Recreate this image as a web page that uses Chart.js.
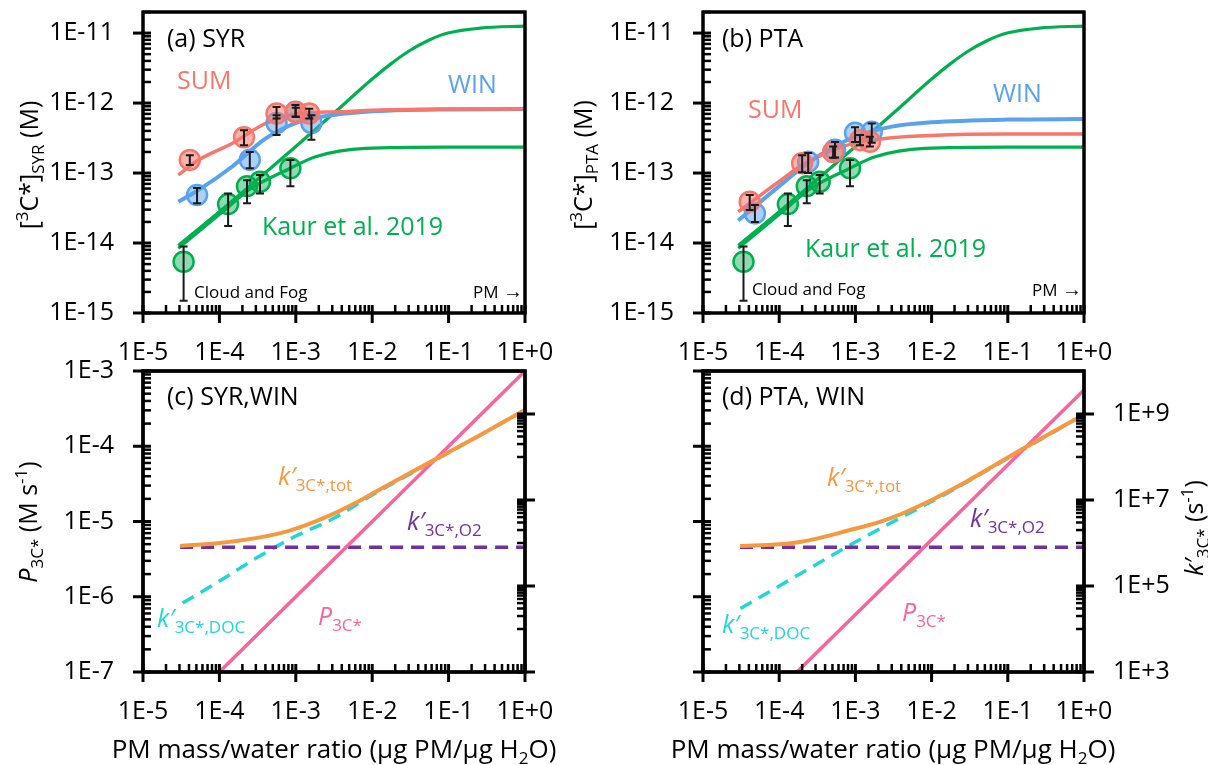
<!DOCTYPE html>
<html>
<head>
<meta charset="utf-8">
<script src="https://cdn.jsdelivr.net/npm/chart.js@4.4.1/dist/chart.umd.min.js"></script>
<style>
  html, body { margin: 0; padding: 0; background: #fff; }
  #wrap { position: relative; width: 1208px; height: 765px; }
  canvas { position: absolute; left: 0; top: 0; }
</style>
</head>
<body>
<div id="wrap">
  <canvas id="pa" width="1208" height="765"></canvas>
  <canvas id="pb" width="1208" height="765"></canvas>
  <canvas id="pc" width="1208" height="765"></canvas>
  <canvas id="pd" width="1208" height="765"></canvas>
</div>
<script>
// x everywhere = PM mass / water ratio (ug PM / ug H2O)

// cloud and fog points (Kaur et al. 2019), same in (a) and (b)
const fogX  = [3.4e-5, 1.3e-4, 2.3e-4, 3.4e-4, 8.5e-4];
const fogY  = [5.4e-15, 3.6e-14, 6.5e-14, 7.5e-14, 1.17e-13];
const fogLo = [1.5e-15, 1.75e-14, 3.7e-14, 5.1e-14, 6.5e-14];
const fogHi = [8.9e-15, 5.1e-14, 7.9e-14, 9.4e-14, 1.54e-13];

// Kaur et al. 2019 model curves
const kaurUpX = [2.9e-5, 1e-4, 1e-3, 3.3e-3, 1e-2, 1.74e-2, 3e-2, 5.5e-2, 9.8e-2, 0.26, 1];
const kaurUpY = [9.2e-15, 2.8e-14, 2.4e-13, 7.5e-13, 2.2e-12, 3.6e-12, 5.5e-12, 7.9e-12, 1.0e-11, 1.18e-11, 1.26e-11];
const kaurLoX = [2.9e-5, 1.32e-4, 2.4e-4, 8.5e-4, 1.81e-3, 8.2e-3, 0.1, 1];
const kaurLoY = [8.4e-15, 3.3e-14, 5.7e-14, 1.17e-13, 1.71e-13, 2.25e-13, 2.35e-13, 2.35e-13];

// (a) SYR
const syrSumX  = [4.1e-5, 2.1e-4, 5.6e-4, 1.0e-3, 1.5e-3];
const syrSumY  = [1.54e-13, 3.24e-13, 7.1e-13, 7.4e-13, 7.1e-13];
const syrSumLo = [1.3e-13, 2.5e-13, 6.0e-13, 6.3e-13, 6.0e-13];
const syrSumHi = [1.8e-13, 4.1e-13, 8.8e-13, 8.6e-13, 8.3e-13];
const syrWinX  = [5.1e-5, 2.5e-4, 5.6e-4, 9.9e-4, 1.6e-3];
const syrWinY  = [4.85e-14, 1.55e-13, 5.2e-13, 7.5e-13, 5.2e-13];
const syrWinLo = [3.7e-14, 1.17e-13, 3.5e-13, 6.4e-13, 3.0e-13];
const syrWinHi = [6.1e-14, 2.0e-13, 6.7e-13, 9.4e-13, 6.7e-13];
const syrSumFitX = [2.9e-5, 5.3e-5, 1.46e-4, 4e-4, 1.1e-3, 3.7e-3, 8.2e-3, 0.1, 1];
const syrSumFitY = [9.4e-14, 1.53e-13, 2.65e-13, 5.1e-13, 7.1e-13, 7.5e-13, 7.8e-13, 8.2e-13, 8.2e-13];
const syrWinFitX = [2.9e-5, 5.3e-5, 1.46e-4, 4e-4, 1.1e-3, 3e-3, 8.2e-3, 0.1, 1];
const syrWinFitY = [3.9e-14, 5.7e-14, 1.23e-13, 3.1e-13, 5.4e-13, 6.7e-13, 7.5e-13, 8.1e-13, 8.2e-13];

// (b) PTA
const ptaSumX  = [4.1e-5, 2.0e-4, 5.1e-4, 1.15e-3, 1.55e-3];
const ptaSumY  = [3.9e-14, 1.38e-13, 2.0e-13, 2.95e-13, 2.8e-13];
const ptaSumLo = [2.96e-14, 1.03e-13, 1.65e-13, 2.5e-13, 2.4e-13];
const ptaSumHi = [4.85e-14, 1.8e-13, 2.4e-13, 3.5e-13, 3.3e-13];
const ptaWinX  = [4.8e-5, 2.4e-4, 5.4e-4, 9.9e-4, 1.64e-3];
const ptaWinY  = [2.65e-14, 1.45e-13, 2.15e-13, 3.75e-13, 3.9e-13];
const ptaWinLo = [2.0e-14, 1.0e-13, 1.67e-13, 2.77e-13, 2.7e-13];
const ptaWinHi = [3.5e-14, 1.93e-13, 2.77e-13, 4.5e-13, 5.1e-13];
const ptaSumFitX = [2.9e-5, 1e-4, 2e-4, 5e-4, 1e-3, 3e-3, 1e-2, 0.1, 1];
const ptaSumFitY = [2.8e-14, 7.6e-14, 1.3e-13, 2.1e-13, 2.7e-13, 3.2e-13, 3.45e-13, 3.6e-13, 3.6e-13];
const ptaWinFitX = [2.9e-5, 1e-4, 2.4e-4, 5e-4, 1e-3, 3e-3, 1e-2, 0.1, 1];
const ptaWinFitY = [2.1e-14, 6.5e-14, 1.4e-13, 2.3e-13, 3.3e-13, 4.6e-13, 5.3e-13, 5.8e-13, 5.9e-13];

// (c) SYR, WIN   k' in s-1 (right axis), P in M s-1 (left axis)
const cTotX = [3.06e-5, 1e-4, 3e-4, 6.3e-4, 1.15e-3, 2.8e-3, 6e-3, 1.29e-2, 5.8e-2, 0.26, 1];
const cTotY = [8.5e5, 1.0e6, 1.3e6, 1.7e6, 2.35e6, 4.4e6, 8.5e6, 1.8e7, 7.7e7, 3.25e8, 1.24e9];
const cO2X  = [3.06e-5, 1];
const cO2Y  = [8.0e5, 8.0e5];
const cDocX = [3.3e-5, 1e-4, 3e-4, 1e-3, 3e-3, 1e-2, 0.1, 1];
const cDocY = [4.0e4, 1.3e5, 4.4e5, 1.45e6, 3.6e6, 1.3e7, 1.25e8, 1.23e9];
const cPX   = [1e-4, 1];
const cPY   = [1e-7, 1e-3];

// (d) PTA, WIN
const dTotX = [3.06e-5, 1e-4, 1.87e-4, 8.5e-4, 2.2e-3, 3.85e-3, 1e-2, 3e-2, 0.16, 1];
const dTotY = [8.5e5, 9.3e5, 1.05e6, 2.0e6, 3.2e6, 4.6e6, 1.0e7, 2.8e7, 1.58e8, 9.8e8];
const dO2X  = [3.06e-5, 1];
const dO2Y  = [8.0e5, 8.0e5];
const dDocX = [3.1e-5, 1e-4, 1e-3, 3.85e-3, 1e-2, 3e-2, 0.1, 1];
const dDocY = [3.0e4, 1.0e5, 1.05e6, 3.8e6, 9.2e6, 2.7e7, 9.3e7, 9.7e8];
const dPX   = [1.71e-4, 1];
const dPY   = [1e-7, 5.6e-4];

const FONT = '"Open Sans", "Liberation Sans", sans-serif';
const RED = '#F8776C', BLUE = '#5AA2EE', GREEN = '#00B050';
const ORANGE = '#F5983F', PURPLE = '#7030A0', CYAN = '#22D6D6', PINK = '#F7659F';

const zip = (xs, ys) => xs.map((x, i) => ({x, y: ys[i]}));
const fnt = (s, it) => (it ? 'italic ' : '') + s + 'px ' + FONT;

function decade(v) {
  const l = Math.log10(v), e = Math.round(l);
  if (Math.abs(l - e) > 1e-6) return '';
  return '1E' + (e < 0 ? '' : '+') + e;
}

function tickSet(e0, e1, k0, max) {
  const out = [];
  for (let e = e0; e <= e1; e++)
    for (let k = k0; k <= 9; k++) {
      const v = Number((k * Math.pow(10, e)).toPrecision(6));
      if (!max || v <= max * 1.0001) out.push(v);
    }
  return out;
}

function drawRich(ctx, parts, x, y, opt = {}) {
  ctx.save();
  ctx.translate(x, y);
  if (opt.rot) ctx.rotate(opt.rot);
  ctx.textBaseline = 'alphabetic';
  ctx.textAlign = 'left';
  let w = 0;
  parts.forEach(p => { ctx.font = fnt(p.s || 25, p.it); w += ctx.measureText(p.t).width; });
  let cx = opt.align === 'center' ? -w / 2 : 0;
  parts.forEach(p => {
    ctx.font = fnt(p.s || 25, p.it);
    ctx.fillStyle = p.c || opt.color || '#000';
    ctx.fillText(p.t, cx, p.dy || 0);
    cx += ctx.measureText(p.t).width;
  });
  ctx.restore();
}

function drawTicks(ctx, chart, scale, side, majors, minors) {
  const a = chart.chartArea;
  ctx.save();
  ctx.strokeStyle = '#000';
  const seg = (x1, y1, x2, y2, w) => { ctx.lineWidth = w; ctx.beginPath(); ctx.moveTo(x1, y1); ctx.lineTo(x2, y2); ctx.stroke(); };
  minors.forEach(v => {
    const p = scale.getPixelForValue(v);
    if (side === 'bottom') seg(p, a.bottom, p, a.bottom - 8, 2.5);
    if (side === 'left') seg(a.left, p, a.left + 8, p, 2.5);
    if (side === 'right') seg(a.right, p, a.right - 8, p, 2.5);
  });
  majors.forEach(v => {
    const p = scale.getPixelForValue(v);
    if (side === 'bottom') seg(p, a.bottom - 8, p, a.bottom + 10, 3);
    if (side === 'left') seg(a.left - 10, p, a.left + 8, p, 3);
    if (side === 'right') seg(a.right - 8, p, a.right + 10, p, 3);
  });
  ctx.lineWidth = 3;
  ctx.strokeRect(a.left, a.top, a.right - a.left, a.bottom - a.top);
  ctx.restore();
}

function errBars(chart, xs, lo, hi) {
  const {ctx} = chart, sx = chart.scales.x, sy = chart.scales.y;
  ctx.save();
  ctx.strokeStyle = '#1a1a1a';
  ctx.lineWidth = 2;
  xs.forEach((xv, i) => {
    const px = sx.getPixelForValue(xv), p1 = sy.getPixelForValue(lo[i]), p2 = sy.getPixelForValue(hi[i]);
    ctx.beginPath();
    ctx.moveTo(px, p1); ctx.lineTo(px, p2);
    ctx.moveTo(px - 4, p1); ctx.lineTo(px + 4, p1);
    ctx.moveTo(px - 4, p2); ctx.lineTo(px + 4, p2);
    ctx.stroke();
  });
  ctx.restore();
}

function pts(xs, ys, col, fill) {
  return {data: zip(xs, ys), showLine: false, pointRadius: 10, pointBorderWidth: 2.5,
          pointBackgroundColor: fill, pointBorderColor: col};
}
function line(xs, ys, col, w, dash, axis) {
  return {data: zip(xs, ys), showLine: true, pointRadius: 0, borderColor: col, borderWidth: w,
          borderDash: dash || [], cubicInterpolationMode: 'monotone', yAxisID: axis || 'y'};
}

function logAxis(min, max, pos, size, labels, pad) {
  return {
    type: 'logarithmic', position: pos, min: min, max: max,
    grid: {display: false, drawTicks: false}, border: {display: false},
    ticks: {display: labels !== false, autoSkip: false, maxRotation: 0, padding: pad,
            color: '#000', font: {family: FONT, size: 25},
            callback: typeof labels === 'function' ? labels : decade},
    afterFit: s => {
      if (pos === 'bottom') s.height = size; else s.width = size;
      s.paddingLeft = s.paddingRight = s.paddingTop = s.paddingBottom = 0;
    }
  };
}

function panel(id, datasets, scales, padding, decor) {
  return new Chart(document.getElementById(id), {
    type: 'scatter',
    data: {datasets},
    options: {
      responsive: false, animation: false, events: [],
      layout: {padding, autoPadding: false},
      plugins: {legend: {display: false}, tooltip: {enabled: false}, title: {display: false}},
      scales
    },
    plugins: [{id: 'decor', afterDatasetsDraw: c => decor(c, 'data'), afterDraw: c => decor(c, 'frame')}]
  });
}

const xMaj = [1e-5, 1e-4, 1e-3, 1e-2, 1e-1, 1];
const xMin = tickSet(-5, -1, 2);
const topYMaj = [1e-15, 1e-14, 1e-13, 1e-12, 1e-11];
const topYMin = tickSet(-15, -11, 2, 2e-11);
const botYMaj = [1e-7, 1e-6, 1e-5, 1e-4, 1e-3];
const botYMin = tickSet(-7, -4, 2);
const kMaj = [1e3, 1e5, 1e7, 1e9];
const kMin = [].concat(tickSet(4, 4, 1), tickSet(6, 6, 1), tickSet(8, 8, 1));

const oddDecade = v => { const s = decade(v); return s && Math.round(Math.log10(v)) % 2 ? s : ''; };

function topDatasets(sumX, sumY, winX, winY, sumFX, sumFY, winFX, winFY) {
  return [
    pts(sumX, sumY, RED, 'rgba(248,119,108,0.55)'),
    pts(winX, winY, BLUE, 'rgba(90,162,238,0.5)'),
    pts(fogX, fogY, GREEN, 'rgba(0,176,80,0.45)'),
    line(sumFX, sumFY, RED, 3.5),
    line(winFX, winFY, BLUE, 4),
    line(kaurUpX, kaurUpY, GREEN, 3.2),
    line(kaurLoX, kaurLoY, GREEN, 3.2)
  ];
}

// (a)
panel('pa',
  topDatasets(syrSumX, syrSumY, syrWinX, syrWinY, syrSumFitX, syrSumFitY, syrWinFitX, syrWinFitY),
  {x: logAxis(1e-5, 1, 'bottom', 60, true, 25), y: logAxis(1e-15, 2e-11, 'left', 143, true, 29)},
  {top: 12, left: 0, right: 683, bottom: 392},
  (c, stage) => {
    const ctx = c.ctx;
    if (stage === 'data') {
      errBars(c, syrSumX, syrSumLo, syrSumHi);
      errBars(c, syrWinX, syrWinLo, syrWinHi);
      errBars(c, fogX, fogLo, fogHi);
      return;
    }
    drawTicks(ctx, c, c.scales.x, 'bottom', xMaj, xMin);
    drawTicks(ctx, c, c.scales.y, 'left', topYMaj, topYMin);
    drawRich(ctx, [{t: '(a) SYR'}], 167, 47);
    drawRich(ctx, [{t: 'SUM', c: RED}], 177, 89);
    drawRich(ctx, [{t: 'WIN', c: BLUE}], 448, 93);
    drawRich(ctx, [{t: 'Kaur et al. 2019', c: GREEN}], 262, 235);
    drawRich(ctx, [{t: 'Cloud and Fog', s: 17}], 194, 298);
    drawRich(ctx, [{t: 'PM ', s: 17}, {t: '\u2192', s: 20}], 473, 298);
    drawRich(ctx, [{t: '['}, {t: '3', s: 17, dy: -10}, {t: 'C*]'}, {t: 'SYR', s: 17, dy: 6}, {t: ' (M)'}],
      38, 165, {rot: -Math.PI / 2, align: 'center'});
  });

// (b)
panel('pb',
  topDatasets(ptaSumX, ptaSumY, ptaWinX, ptaWinY, ptaSumFitX, ptaSumFitY, ptaWinFitX, ptaWinFitY),
  {x: logAxis(1e-5, 1, 'bottom', 60, true, 25), y: logAxis(1e-15, 2e-11, 'left', 703, true, 29)},
  {top: 12, left: 0, right: 124, bottom: 392},
  (c, stage) => {
    const ctx = c.ctx;
    if (stage === 'data') {
      errBars(c, ptaSumX, ptaSumLo, ptaSumHi);
      errBars(c, ptaWinX, ptaWinLo, ptaWinHi);
      errBars(c, fogX, fogLo, fogHi);
      return;
    }
    drawTicks(ctx, c, c.scales.x, 'bottom', xMaj, xMin);
    drawTicks(ctx, c, c.scales.y, 'left', topYMaj, topYMin);
    drawRich(ctx, [{t: '(b) PTA'}], 722, 47);
    drawRich(ctx, [{t: 'SUM', c: RED}], 748, 118);
    drawRich(ctx, [{t: 'WIN', c: BLUE}], 993, 102);
    drawRich(ctx, [{t: 'Kaur et al. 2019', c: GREEN}], 805, 257);
    drawRich(ctx, [{t: 'Cloud and Fog', s: 17}], 752, 295);
    drawRich(ctx, [{t: 'PM ', s: 17}, {t: '\u2192', s: 20}], 1032, 296);
    drawRich(ctx, [{t: '['}, {t: '3', s: 17, dy: -10}, {t: 'C*]'}, {t: 'PTA', s: 17, dy: 6}, {t: ' (M)'}],
      592, 165, {rot: -Math.PI / 2, align: 'center'});
  });

function bottomDatasets(pX, pY, totX, totY, o2X, o2Y, docX, docY) {
  return [
    line(totX, totY, ORANGE, 4, null, 'y2'),
    line(pX, pY, PINK, 3.5, null, 'y'),
    line(o2X, o2Y, PURPLE, 3.5, [13, 8], 'y2'),
    line(docX, docY, CYAN, 3.5, [13, 8], 'y2')
  ];
}
const xTitle = [{t: 'PM mass/water ratio (\u00b5g PM/\u00b5g H', s: 26}, {t: '2', s: 17, dy: 6}, {t: 'O)', s: 26}];
const kLab = (col, sub) => [{t: 'k\u2032', it: true, c: col}, {t: '3C*,' + sub, s: 17, dy: 6, c: col}];
const pLab = [{t: 'P', it: true, c: PINK}, {t: '3C*', s: 17, dy: 6, c: PINK}];

// (c)
panel('pc',
  bottomDatasets(cPX, cPY, cTotX, cTotY, cO2X, cO2Y, cDocX, cDocY),
  {x: logAxis(1e-5, 1, 'bottom', 60, true, 25),
   y: logAxis(1e-7, 1e-3, 'left', 143, true, 29),
   y2: logAxis(1e3, 1e10, 'right', 683, false, 29)},
  {top: 371, left: 0, right: 0, bottom: 33},
  (c, stage) => {
    if (stage === 'data') return;
    const ctx = c.ctx;
    drawTicks(ctx, c, c.scales.x, 'bottom', xMaj, xMin);
    drawTicks(ctx, c, c.scales.y, 'left', botYMaj, botYMin);
    drawTicks(ctx, c, c.scales.y2, 'right', kMaj, kMin);
    drawRich(ctx, [{t: '(c) SYR,WIN'}], 167, 405);
    drawRich(ctx, kLab(ORANGE, 'tot'), 278, 485);
    drawRich(ctx, kLab(PURPLE, 'O2'), 407, 530);
    drawRich(ctx, kLab(CYAN, 'DOC'), 157, 627);
    drawRich(ctx, pLab, 318, 625);
    drawRich(ctx, xTitle, 334, 758, {align: 'center'});
    drawRich(ctx, [{t: 'P', it: true}, {t: '3C*', s: 17, dy: 6}, {t: ' (M s'}, {t: '-1', s: 17, dy: -10}, {t: ')'}],
      37, 522, {rot: -Math.PI / 2, align: 'center'});
  });

// (d)
panel('pd',
  bottomDatasets(dPX, dPY, dTotX, dTotY, dO2X, dO2Y, dDocX, dDocY),
  {x: logAxis(1e-5, 1, 'bottom', 60, true, 25),
   y: logAxis(1e-7, 1e-3, 'left', 703, false, 29),
   y2: logAxis(1e3, 1e10, 'right', 124, oddDecade, 29)},
  {top: 371, left: 0, right: 0, bottom: 33},
  (c, stage) => {
    if (stage === 'data') return;
    const ctx = c.ctx;
    drawTicks(ctx, c, c.scales.x, 'bottom', xMaj, xMin);
    drawTicks(ctx, c, c.scales.y, 'left', botYMaj, botYMin);
    drawTicks(ctx, c, c.scales.y2, 'right', kMaj, kMin);
    drawRich(ctx, [{t: '(d) PTA, WIN'}], 722, 405);
    drawRich(ctx, kLab(ORANGE, 'tot'), 827, 486);
    drawRich(ctx, kLab(PURPLE, 'O2'), 970, 527);
    drawRich(ctx, kLab(CYAN, 'DOC'), 722, 633);
    drawRich(ctx, pLab, 902, 621);
    drawRich(ctx, xTitle, 893, 758, {align: 'center'});
    drawRich(ctx, [{t: 'k\u2032', it: true}, {t: '3C*', s: 17, dy: 6}, {t: ' (s'}, {t: '-1', s: 17, dy: -10}, {t: ')'}],
      1203, 528, {rot: -Math.PI / 2, align: 'center'});
  });
</script>
</body>
</html>
